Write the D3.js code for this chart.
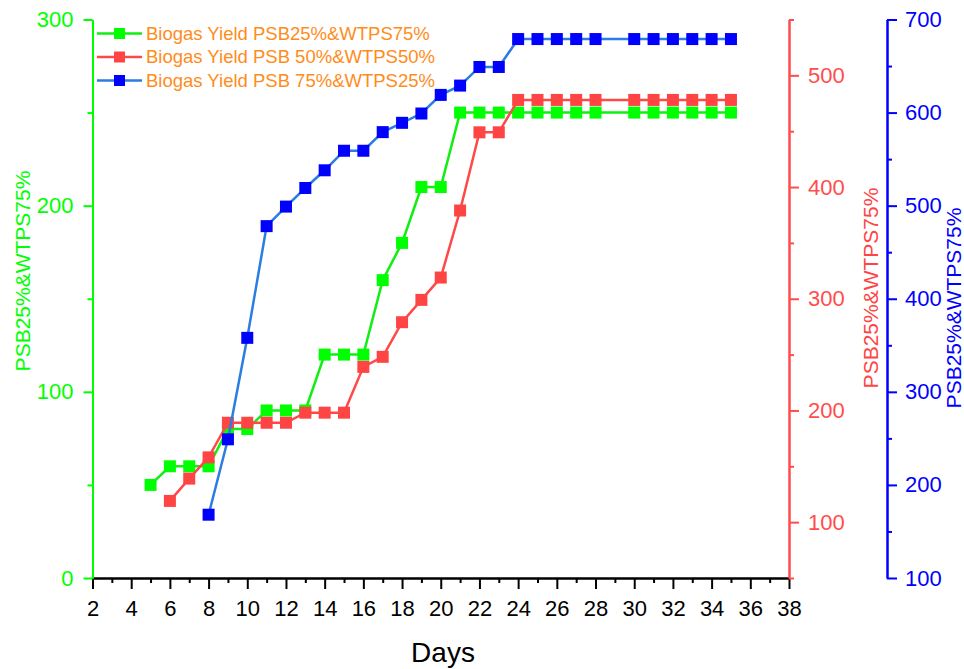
<!DOCTYPE html>
<html>
<head>
<meta charset="utf-8">
<script src="https://cdn.jsdelivr.net/npm/d3@7"></script>
<style>
  body { margin: 0; background: #fff; }
  text { font-family: "Liberation Sans", Arial, sans-serif; }
</style>
</head>
<body>
<script>
// series values (day 29 has no points)
var greenDays = [5,6,7,8,9,10,11,12,13,14,15,16,17,18,19,20,21,22,23,24,25,26,27,28,30,31,32,33,34,35];
var greenVals = [50,60,60,60,80,80,90,90,90,120,120,120,160,180,210,210,250,250,250,250,250,250,250,250,250,250,250,250,250,250];

var redDays = [6,7,8,9,10,11,12,13,14,15,16,17,18,19,20,21,22,23,24,25,26,27,28,30,31,32,33,34,35];
var redVals = [119,139,158,189,189,189,189,198,198,198,239,248,279,299,319,379,449,449,478,478,478,478,478,478,478,478,478,478,478];

var blueDays = [8,9,10,11,12,13,14,15,16,17,18,19,20,21,22,23,24,25,26,27,28,30,31,32,33,34,35];
var blueVals = [168,249,358,478,499,519,538,559,559,579,589,599,619,629,649,649,679,679,679,679,679,679,679,679,679,679,679];

var seriesNames = ["Biogas Yield PSB25%&WTPS75%", "Biogas Yield PSB 50%&WTPS50%", "Biogas Yield PSB 75%&WTPS25%"];

var xTicks = [2,4,6,8,10,12,14,16,18,20,22,24,26,28,30,32,34,36,38];
var xMinor = [3,5,7,9,11,13,15,17,19,21,23,25,27,29,31,33,35,37];
var leftTicks = [0,100,200,300];
var leftMinor = [50,150,250];
var redTicks = [100,200,300,400,500];
var redMinor = [50,150,250,350,450,550];
var blueTicks = [100,200,300,400,500,600,700];
var blueMinor = [150,250,350,450,550,650];

var width = 964;
var height = 669;
var plotTop = 19.5, plotBottom = 578, plotLeft = 92.5, plotRight = 789, blueX = 887;

var GREEN = "#00ff00", RED = "#ff4444", BLUE = "#0000ff";

var svg = d3.select("body").append("svg")
  .attr("width", width)
  .attr("height", height);

var x = d3.scaleLinear().domain([2, 38]).range([plotLeft, plotRight]);
var yL = d3.scaleLinear().domain([0, 300]).range([plotBottom, plotTop]);
var yR = d3.scaleLinear().domain([50, 550]).range([plotBottom, plotTop]);
var yB = d3.scaleLinear().domain([100, 700]).range([plotBottom, plotTop]);

function styleAxis(g, color, size) {
  g.select(".domain").attr("stroke", color).attr("stroke-width", 2);
  g.selectAll(".tick line").attr("stroke", color).attr("stroke-width", 2);
  g.selectAll(".tick text").attr("fill", color).style("font-size", size + "px");
}

// x axis
var gx = svg.append("g").attr("transform", "translate(0," + plotBottom + ")");
gx.call(d3.axisBottom(x).tickValues(xMinor).tickSize(5).tickSizeOuter(0).tickFormat(""));
styleAxis(gx, "#000", 22);
var gx2 = svg.append("g").attr("transform", "translate(0," + plotBottom + ")");
gx2.call(d3.axisBottom(x).tickValues(xTicks).tickSize(11).tickSizeOuter(0).tickPadding(11).tickFormat(d3.format("d")));
styleAxis(gx2, "#000", 22);

// left axis (green)
var gl = svg.append("g").attr("transform", "translate(" + plotLeft + ",0)");
gl.call(d3.axisLeft(yL).tickValues(leftMinor).tickSize(5).tickSizeOuter(0).tickFormat(""));
styleAxis(gl, GREEN, 22);
var gl2 = svg.append("g").attr("transform", "translate(" + plotLeft + ",0)");
gl2.call(d3.axisLeft(yL).tickValues(leftTicks).tickSize(9).tickSizeOuter(0).tickPadding(10));
styleAxis(gl2, GREEN, 22);

// right axis (red)
var gr = svg.append("g").attr("transform", "translate(" + plotRight + ",0)");
gr.call(d3.axisRight(yR).tickValues(redMinor).tickSize(5).tickSizeOuter(0).tickFormat(""));
styleAxis(gr, "#ff4d4d", 22);
var gr2 = svg.append("g").attr("transform", "translate(" + plotRight + ",0)");
gr2.call(d3.axisRight(yR).tickValues(redTicks).tickSize(10).tickSizeOuter(0).tickPadding(9));
styleAxis(gr2, "#ff4d4d", 22);

// outer right axis (blue)
var gb = svg.append("g").attr("transform", "translate(" + blueX + ",0)");
gb.call(d3.axisRight(yB).tickValues(blueMinor).tickSize(5).tickSizeOuter(0).tickFormat(""));
styleAxis(gb, BLUE, 22);
var gb2 = svg.append("g").attr("transform", "translate(" + blueX + ",0)");
gb2.call(d3.axisRight(yB).tickValues(blueTicks).tickSize(10).tickSizeOuter(0).tickPadding(8));
styleAxis(gb2, BLUE, 22);

// axis titles
svg.append("text")
  .attr("transform", "translate(" + 443 + "," + 662 + ")")
  .attr("text-anchor", "middle")
  .style("font-size", "28px")
  .attr("fill", "#000")
  .text("Days");

function yTitle(cx, cy, color) {
  svg.append("text")
    .attr("transform", "translate(" + cx + "," + cy + ") rotate(-90)")
    .attr("text-anchor", "middle")
    .attr("dy", "0.35em")
    .style("font-size", "21px")
    .attr("fill", color)
    .text("PSB25%&WTPS75%");
}
yTitle(22.5, 271, GREEN);
yTitle(871, 288, RED);
yTitle(954, 308, BLUE);

// series
var series = [
  {days: greenDays, vals: greenVals, y: yL, line: "#11ee11", mark: GREEN},
  {days: redDays, vals: redVals, y: yR, line: "#ff4848", mark: RED},
  {days: blueDays, vals: blueVals, y: yB, line: "#2a7de1", mark: BLUE}
];

series.forEach(function(s) {
  var pts = s.days.map(function(d, i) { return [d, s.vals[i]]; });
  var line = d3.line()
    .x(function(d) { return x(d[0]); })
    .y(function(d) { return s.y(d[1]); });
  svg.append("path")
    .datum(pts)
    .attr("d", line)
    .attr("fill", "none")
    .attr("stroke", s.line)
    .attr("stroke-width", 2.5);
  svg.append("g")
    .selectAll("rect")
    .data(pts)
    .enter().append("rect")
    .attr("x", function(d) { return x(d[0]) - 6; })
    .attr("y", function(d) { return s.y(d[1]) - 6; })
    .attr("width", 12)
    .attr("height", 12)
    .attr("fill", s.mark);
});

// legend
var legend = svg.append("g")
  .selectAll("g")
  .data(series)
  .enter().append("g")
  .attr("transform", function(d, i) { return "translate(97," + (33.5 + i * 23.5) + ")"; });
legend.append("line")
  .attr("x1", 0).attr("x2", 45)
  .attr("stroke", function(d) { return d.line; })
  .attr("stroke-width", 2.5);
legend.append("rect")
  .attr("x", 17).attr("y", -5.5)
  .attr("width", 11).attr("height", 11)
  .attr("fill", function(d) { return d.mark; });
legend.append("text")
  .attr("x", 49)
  .attr("dy", "0.35em")
  .style("font-size", "18.5px")
  .attr("fill", "#ff8c1a")
  .text(function(d, i) { return seriesNames[i]; });
</script>
</body>
</html>
